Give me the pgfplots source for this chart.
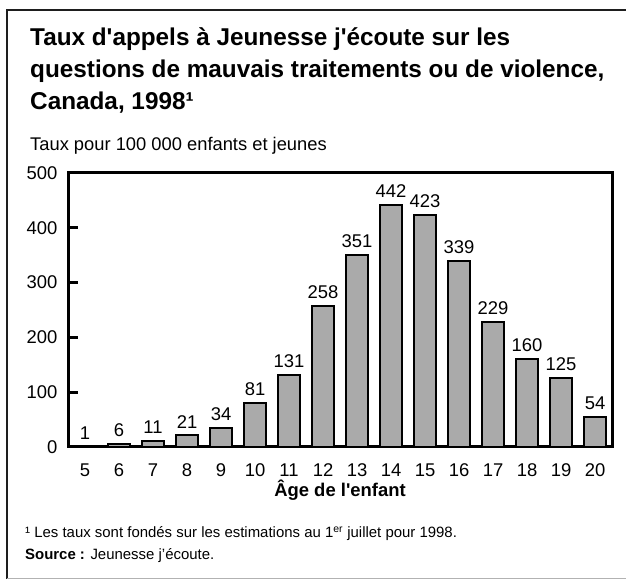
\documentclass[border=0pt]{standalone}
\usepackage{pgfplots}
\pgfplotsset{compat=1.18}
\usepackage{fontspec}
\setmainfont{Liberation Sans}[Ligatures=TeXOff]
\definecolor{barfill}{RGB}{170,170,170}
\definecolor{boxline}{RGB}{30,30,30}

\begin{document}
\begin{tikzpicture}[x=1bp,y=1bp]
  \useasboundingbox (0,0) rectangle (626,580);
  % outer box (cut off at the right)
  \draw[boxline, line width=2bp] (626,570) -- (7,570) -- (7,1);
  \draw[gray!60, line width=1bp] (7,1) -- (626,1);

  % titles
  \node[anchor=base west, inner sep=0, font=\fontsize{24.4}{32}\selectfont\bfseries]
    at (30,534) {Taux d'appels à Jeunesse j'écoute sur les};
  \node[anchor=base west, inner sep=0, font=\fontsize{24.4}{32}\selectfont\bfseries]
    at (30,502) {questions de mauvais traitements ou de violence,};
  \node[anchor=base west, inner sep=0, font=\fontsize{24.4}{32}\selectfont\bfseries]
    at (30,470) {Canada, 1998¹};
  \node[anchor=base west, inner sep=0, font=\fontsize{18.4}{22}\selectfont]
    at (30,429) {Taux pour 100 000 enfants et jeunes};

  \begin{axis}[
      at={(68bp,133bp)}, anchor=south west,
      scale only axis,
      width=544bp, height=274bp,
      xmin=4.5, xmax=20.5,
      ymin=0, ymax=500,
      xtick={5,...,20},
      ytick={0,100,...,500},
      ytick pos=left,
      xtick style={draw=none},
      tick align=inside,
      major tick length=10bp,
      every tick/.style={black, line width=3bp},
      axis line style={line width=3bp},
      /pgf/number format/assume math mode=true,
      tick label style={font=\fontsize{18.5}{22}\selectfont},
      yticklabel style={xshift=-7bp},
      xticklabel style={yshift=-3bp},
      xlabel={\bfseries Âge de l'enfant},
      xlabel style={font=\fontsize{18.5}{22}\selectfont, at={(axis description cs:0.5,0)},
                    anchor=base, yshift=-50bp, inner sep=0},
      ybar, bar width=22bp, bar shift=0pt,
      nodes near coords,
      nodes near coords style={font=\fontsize{18.5}{22}\selectfont, yshift=3bp},
      clip=false,
    ]
    \addplot[draw=black, line width=2bp, fill=barfill] coordinates {
      (5,1) (6,6) (7,11) (8,21) (9,34) (10,81) (11,131) (12,258)
      (13,351) (14,442) (15,423) (16,339) (17,229) (18,160) (19,125) (20,54)
    };
  \end{axis}

  % notes
  \node[anchor=base west, inner sep=0, font=\fontsize{15}{18}\selectfont]
    at (25,42) {¹ Les taux sont fondés sur les estimations au 1\textsuperscript{er} juillet pour 1998.};
  \node[anchor=base west, inner sep=0, font=\fontsize{15}{18}\selectfont]
    at (25,20) {\textbf{Source :} Jeunesse j’écoute.};
\end{tikzpicture}
\end{document}
